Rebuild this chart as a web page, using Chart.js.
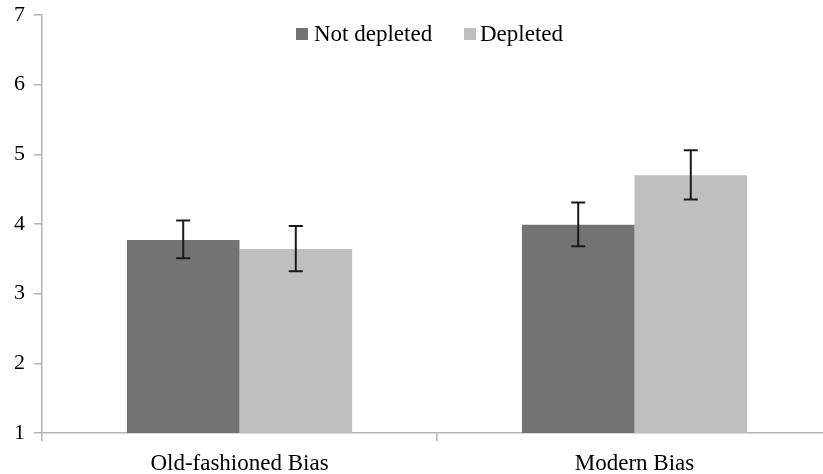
<!DOCTYPE html>
<html>
<head>
<meta charset="utf-8">
<script src="https://cdn.jsdelivr.net/npm/chart.js@4"></script>
<style>
  html, body { margin: 0; padding: 0; background: #fff; overflow: hidden; }
  #wrap { width: 850px; height: 474px; }
</style>
</head>
<body>
<div id="wrap"><canvas id="biasChart" width="850" height="474"></canvas></div>
<script>
const categories = ['Old-fashioned Bias', 'Modern Bias'];
const seriesNames = ['Not depleted', 'Depleted'];
const notDepleted = [3.77, 3.99];
const depleted = [3.64, 4.70];
const notDepletedLow = [3.51, 3.68];
const notDepletedHigh = [4.05, 4.31];
const depletedLow = [3.32, 4.35];
const depletedHigh = [3.97, 5.06];
const yTicks = [1, 2, 3, 4, 5, 6, 7];

const serif = "'Liberation Serif', 'Times New Roman', serif";

// error bars drawn on top of the bars
const errorBars = {
    id: 'errorBars',
    afterDatasetsDraw(chart) {
        const ctx = chart.ctx;
        const y = chart.scales.y;
        const ranges = [[notDepletedLow, notDepletedHigh], [depletedLow, depletedHigh]];
        ctx.save();
        ctx.strokeStyle = '#1a1a1a';
        ctx.lineWidth = 2;
        chart.data.datasets.forEach((ds, d) => {
            chart.getDatasetMeta(d).data.forEach((bar, i) => {
                const top = y.getPixelForValue(ranges[d][1][i]);
                const bot = y.getPixelForValue(ranges[d][0][i]);
                ctx.beginPath();
                ctx.moveTo(bar.x, top); ctx.lineTo(bar.x, bot);
                ctx.moveTo(bar.x - 7, top); ctx.lineTo(bar.x + 7, top);
                ctx.moveTo(bar.x - 7, bot); ctx.lineTo(bar.x + 7, bot);
                ctx.stroke();
            });
        });
        ctx.restore();
    }
};

// legend inside the plot, top centre
const insideLegend = {
    id: 'insideLegend',
    afterDraw(chart) {
        const ctx = chart.ctx;
        ctx.save();
        ctx.font = '23px ' + serif;
        ctx.textBaseline = 'middle';
        const items = [[296, 314], [464, 480]];
        chart.data.datasets.forEach((ds, d) => {
            ctx.fillStyle = ds.backgroundColor;
            ctx.fillRect(items[d][0], 28, 12, 12);
            ctx.fillStyle = '#000';
            ctx.fillText(ds.label, items[d][1], 35);
        });
        ctx.restore();
    }
};

new Chart(document.getElementById('biasChart'), {
    type: 'bar',
    data: {
        labels: categories,
        datasets: [
            { label: seriesNames[0], data: notDepleted, backgroundColor: '#737373' },
            { label: seriesNames[1], data: depleted, backgroundColor: '#bfbfbf' }
        ]
    },
    options: {
        responsive: false,
        animation: false,
        layout: { padding: { top: 15, right: 18, left: 0, bottom: 0 } },
        datasets: { bar: { categoryPercentage: 0.57, barPercentage: 1.0 } },
        plugins: { legend: { display: false }, tooltip: { enabled: false } },
        scales: {
            x: {
                grid: { display: true, drawOnChartArea: false, offset: true, tickLength: 8, color: '#b3b3b3', lineWidth: 1.5 },
                border: { color: '#b3b3b3', width: 1.5 },
                ticks: { color: '#000', font: { family: serif, size: 23 }, padding: 9 },
                afterFit(s) { s.height = 41; s.paddingLeft = 0; s.paddingRight = 0; }
            },
            y: {
                min: 1,
                max: 7,
                afterBuildTicks(s) { s.ticks = yTicks.map(v => ({ value: v })); },
                grid: { display: true, drawOnChartArea: false, tickLength: 8, color: '#b3b3b3', lineWidth: 1.5 },
                border: { color: '#b3b3b3', width: 1.5 },
                ticks: { color: '#000', font: { family: serif, size: 22 }, padding: 9 },
                afterFit(s) { s.width = 42; s.paddingTop = 0; s.paddingBottom = 0; }
            }
        }
    },
    plugins: [errorBars, insideLegend]
});
</script>
</body>
</html>
